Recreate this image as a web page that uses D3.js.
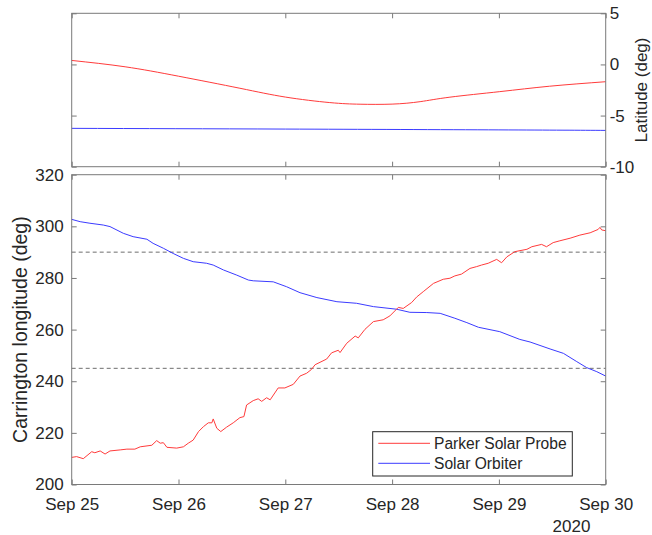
<!DOCTYPE html>
<html>
<head>
<meta charset="utf-8">
<script src="https://cdn.jsdelivr.net/npm/d3@7"></script>
<style>
  html, body { margin: 0; padding: 0; background: #fff; }
  svg { display: block; font-family: "Liberation Sans", Arial, Helvetica, sans-serif; }
</style>
</head>
<body>
<svg id="chart" width="652" height="535"></svg>
<script>
// ---------------- DATA ----------------
// time offsets in hours from 2020-09-25 00:00 UTC
const seriesNames = ["Parker Solar Probe", "Solar Orbiter"];

// Latitude (deg)
const pspLatHours = [0, 12, 24, 37.8, 48, 58, 64.8, 72, 78.3, 85, 96.2, 107.4, 120];
const pspLat      = [0.39, -0.23, -1.15, -2.33, -3.19, -3.73, -3.89, -3.88, -3.64, -3.2, -2.66, -2.13, -1.69];
const soloLatHours = [0, 48, 96, 120];
const soloLat      = [-6.25, -6.32, -6.4, -6.45];

// Carrington longitude (deg)
const pspLonHours = [0, 1.1, 2.6, 4.5, 5.2, 6.4, 7.5, 8.6, 10.9, 12.4, 14.2, 15.4, 18.0, 19.1, 19.9, 20.6, 21.4,
  23.6, 25.1, 26.2, 27.3, 28.5, 29.6, 30.7, 31.5, 31.8, 32.6, 33.5, 34.8, 36.3, 37.8, 38.7, 39.3, 40.8,
  41.9, 42.7, 43.8, 44.6, 46.4, 47.9, 49.8, 51.3, 52.8, 53.9, 54.7, 57.3, 58.4, 59.9, 60.3, 61.8, 63.7,
  64.4, 65.9, 67.8, 70.0, 71.5, 73.4, 74.5, 76.4, 77.5, 79.0, 81.3, 83.5, 85.0, 86.1, 87.6, 89.5, 91.0,
  92.1, 93.6, 95.5, 96.6, 97.8, 99.6, 102.3, 103.4, 105.6, 106.7, 108.2, 109.7, 112.0, 114.2, 116.5,
  117.6, 118.3, 118.7, 119.1, 120];
const pspLon = [210.5, 210.8, 210.0, 212.7, 212.3, 213.0, 211.8, 213.0, 213.4, 213.7, 213.7, 214.6, 215.2, 217.0, 216.0, 216.2, 214.4,
  214.1, 214.6, 216.0, 217.2, 220.5, 222.4, 223.9, 223.9, 225.4, 221.8, 220.5, 222.2, 223.9, 225.9, 226.3, 230.8, 232.5,
  233.2, 232.2, 233.6, 232.8, 237.4, 237.4, 238.8, 242.0, 243.1, 244.6, 246.4, 248.6, 251.0, 252.0, 251.1, 254.7, 257.5,
  256.8, 260.1, 263.1, 263.8, 265.3, 268.6, 268.2, 270.5, 272.6, 274.7, 277.9, 279.5, 279.9, 280.8, 281.5, 283.7, 284.4,
  285.0, 285.7, 287.2, 285.9, 288.2, 290.2, 291.1, 292.1, 293.0, 292.1, 293.7, 294.4, 295.4, 296.6, 297.5,
  298.3, 298.8, 299.6, 298.6, 298.3];

const soloLonHours = [0, 1.9, 4.1, 7.1, 8.6, 11.6, 13.8, 16.9, 18.3, 20.6, 22.8, 25.1, 27.3, 30.3, 31.8, 34.1,
  37.1, 39.7, 40.8, 45.3, 48.3, 51.3, 55.1, 59.6, 64.0, 67.8, 73.0, 76.0, 79.8, 82.8, 86.1, 88.8, 91.4,
  96.2, 100.7, 103.0, 107.5, 110.5, 113.5, 115.7, 118.0, 120];
const soloLon = [302.7, 301.8, 301.2, 300.5, 299.9, 297.3, 296.0, 295.0, 293.4, 291.5, 289.5, 287.6, 286.3, 285.7, 285.0, 283.1,
  281.1, 279.2, 278.9, 278.5, 276.6, 274.3, 272.4, 270.8, 270.2, 268.9, 267.9, 266.7, 266.6, 266.3, 264.4, 262.7, 260.9,
  259.2, 256.2, 255.2, 252.5, 250.8, 247.6, 245.3, 243.7, 242.0];

// reference levels (dashed)
const refLevels = [290, 245];

// ticks
const latTicks = [5, 0, -5, -10];
const lonTicks = [200, 220, 240, 260, 280, 300, 320];
const startDate = "2020-09-25T00:00:00Z";
const endDate = "2020-09-30T00:00:00Z";
const yearLabel = "2020";

// ---------------- LAYOUT ----------------
const colors = ["#ff3b3b", "#3b3bff"];
const axisColor = "#262626";
const frameColor = "#7a7a7a";
const L = 71.7, R = 605.7;
const topPanel = { t: 13.3, b: 166.7 };
const botPanel = { t: 174.7, b: 484.5 };

const svg = d3.select("#chart");
const t0 = new Date(startDate);
const toDate = h => new Date(t0.getTime() + h * 3600 * 1000);

const x = d3.scaleUtc().domain([new Date(startDate), new Date(endDate)]).range([L, R]);
const yLat = d3.scaleLinear().domain([-10, 5]).range([topPanel.b, topPanel.t]);
const yLon = d3.scaleLinear().domain([200, 320]).range([botPanel.b, botPanel.t]);

const dayTicks = d3.utcDay.range(new Date(startDate), d3.utcDay.offset(new Date(endDate), 1));
const fmt = d3.utcFormat("%b %-d");

function styleAxis(g, showText) {
  g.select(".domain").remove();
  g.selectAll(".tick line").attr("stroke", frameColor).attr("stroke-width", 1);
  g.selectAll(".tick text").attr("fill", axisColor).attr("font-size", 17)
    .attr("font-family", '"Liberation Sans", Arial, sans-serif');
  if (!showText) g.selectAll(".tick text").remove();
}

// ---------- TOP PANEL ----------
const gTop = svg.append("g");
gTop.append("g").attr("transform", `translate(0,${topPanel.b})`)
  .call(d3.axisBottom(x).tickValues(dayTicks).tickSize(-5)).call(g => styleAxis(g, false));
gTop.append("g").attr("transform", `translate(0,${topPanel.t})`)
  .call(d3.axisTop(x).tickValues(dayTicks).tickSize(-5)).call(g => styleAxis(g, false));
gTop.append("g").attr("transform", `translate(${L},0)`)
  .call(d3.axisLeft(yLat).tickValues(latTicks).tickSize(-5)).call(g => styleAxis(g, false));
gTop.append("g").attr("transform", `translate(${R},0)`)
  .call(d3.axisRight(yLat).tickValues(latTicks).tickSize(-5).tickPadding(4).tickFormat(d => String(d).replace("−", "-")))
  .call(g => styleAxis(g, true));

const lineLat = (hs, vs) => d3.line().curve(d3.curveNatural)
  .x((d, i) => x(toDate(hs[i]))).y(d => yLat(d))(vs);

gTop.append("path").attr("d", lineLat(pspLatHours, pspLat))
  .attr("fill", "none").attr("stroke", colors[0]).attr("stroke-width", 1);
gTop.append("path").attr("d", lineLat(soloLatHours, soloLat))
  .attr("fill", "none").attr("stroke", colors[1]).attr("stroke-width", 1);

gTop.append("rect").attr("x", L).attr("y", topPanel.t).attr("width", R - L).attr("height", topPanel.b - topPanel.t)
  .attr("fill", "none").attr("stroke", frameColor).attr("stroke-width", 1);

svg.append("text").attr("transform", `translate(647,${(topPanel.t + topPanel.b) / 2}) rotate(-90)`)
  .attr("text-anchor", "middle").attr("font-size", 17).attr("fill", axisColor)
  .text("Latitude (deg)");

// ---------- BOTTOM PANEL ----------
const gBot = svg.append("g");
gBot.append("g").attr("transform", `translate(0,${botPanel.b})`)
  .call(d3.axisBottom(x).tickValues(dayTicks).tickSize(-5).tickPadding(13).tickFormat(fmt))
  .call(g => styleAxis(g, true));
gBot.append("g").attr("transform", `translate(0,${botPanel.t})`)
  .call(d3.axisTop(x).tickValues(dayTicks).tickSize(-5)).call(g => styleAxis(g, false));
gBot.append("g").attr("transform", `translate(${L},0)`)
  .call(d3.axisLeft(yLon).tickValues(lonTicks).tickSize(-5).tickPadding(8))
  .call(g => styleAxis(g, true));
gBot.append("g").attr("transform", `translate(${R},0)`)
  .call(d3.axisRight(yLon).tickValues(lonTicks).tickSize(-5)).call(g => styleAxis(g, false));

gBot.selectAll("line.ref").data(refLevels).join("line").attr("class", "ref")
  .attr("x1", L).attr("x2", R).attr("y1", d => yLon(d)).attr("y2", d => yLon(d))
  .attr("stroke", "#6e6e6e").attr("stroke-width", 1).attr("stroke-dasharray", "4,3");

const lineLon = (hs, vs) => d3.line()
  .x((d, i) => x(toDate(hs[i]))).y(d => yLon(d))(vs);

gBot.append("path").attr("d", lineLon(soloLonHours, soloLon))
  .attr("fill", "none").attr("stroke", colors[1]).attr("stroke-width", 1);
gBot.append("path").attr("d", lineLon(pspLonHours, pspLon))
  .attr("fill", "none").attr("stroke", colors[0]).attr("stroke-width", 1);

gBot.append("rect").attr("x", L).attr("y", botPanel.t).attr("width", R - L).attr("height", botPanel.b - botPanel.t)
  .attr("fill", "none").attr("stroke", frameColor).attr("stroke-width", 1);

svg.append("text").attr("transform", `translate(27,${(botPanel.t + botPanel.b) / 2}) rotate(-90)`)
  .attr("text-anchor", "middle").attr("font-size", 19.5).attr("fill", axisColor)
  .text("Carrington longitude (deg)");

svg.append("text").attr("x", 571.5).attr("y", 531.5).attr("text-anchor", "middle")
  .attr("font-size", 17).attr("fill", axisColor).text(yearLabel);

// ---------- LEGEND ----------
const lg = svg.append("g");
lg.append("rect").attr("x", 372.7).attr("y", 431.7).attr("width", 199.6).attr("height", 44.3)
  .attr("fill", "#fff").attr("stroke", axisColor).attr("stroke-width", 1);
seriesNames.forEach((name, i) => {
  const yy = 443.3 + i * 20;
  lg.append("line").attr("x1", 378.3).attr("x2", 430).attr("y1", yy).attr("y2", yy)
    .attr("stroke", colors[i]).attr("stroke-width", 1);
  lg.append("text").attr("x", 434).attr("y", yy).attr("dy", "0.35em")
    .attr("font-size", 15.6).attr("fill", axisColor).text(name);
});
</script>
</body>
</html>
